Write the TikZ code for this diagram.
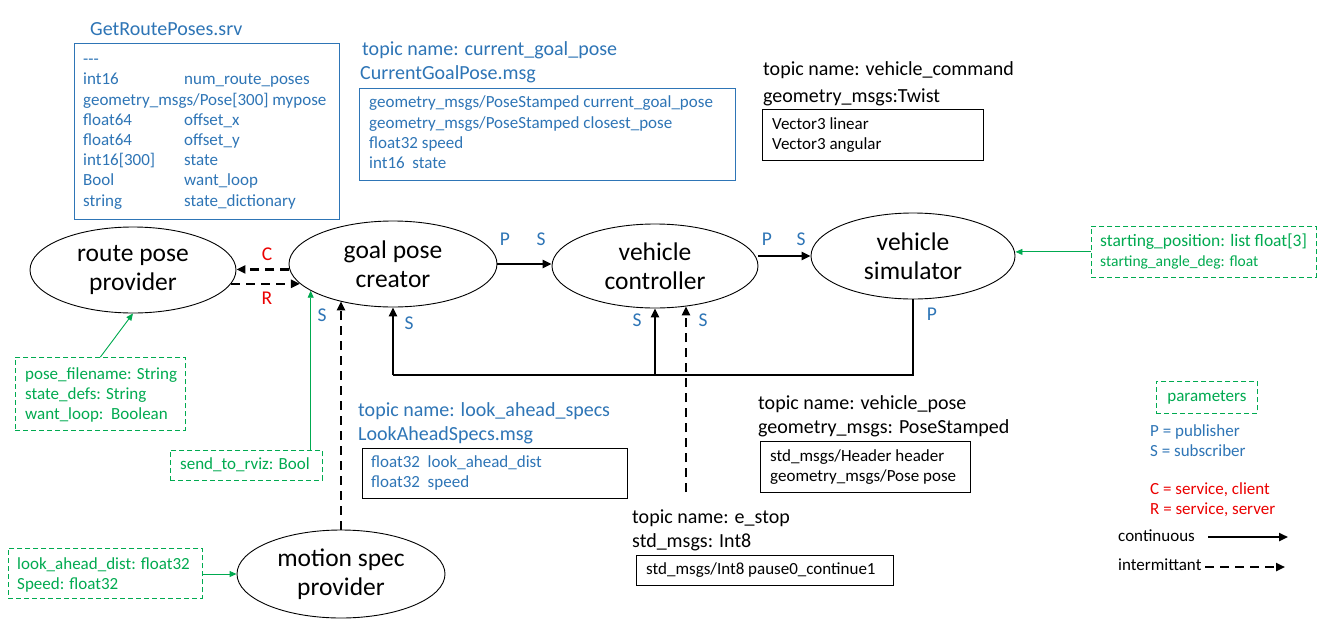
\documentclass[tikz,border=0pt]{standalone}
\usepackage{fontspec}
\setmainfont{Carlito}
\usetikzlibrary{shapes.geometric,arrows.meta,calc}
\definecolor{pblue}{RGB}{46,117,182}
\definecolor{pgreen}{RGB}{0,170,80}
\definecolor{pred}{RGB}{235,0,0}
\newcommand{\fsz}[1]{\fontsize{#1}{#1}\selectfont}
\begin{document}
\begin{tikzpicture}[x=1pt,y=-1pt,
 proc/.style={ellipse,draw,line width=0.9pt,inner sep=0pt,align=center,font=\fontsize{25.5}{29}\selectfont},
 txt/.style={anchor=west,inner sep=0pt,text height=12pt,text depth=3pt,font=\fsz{17}},
 btxt/.style={txt,text=pblue},
 gtxt/.style={txt,text=pgreen},
 ttl/.style={txt,font=\fsz{20},text height=14pt,text depth=4pt},
 bttl/.style={ttl,text=pblue},
 box/.style={draw,line width=0.8pt,anchor=north west,inner sep=0pt},
 bbox/.style={box,draw=pblue},
 gbox/.style={box,draw=pgreen,dash pattern=on 5pt off 3pt},
 conn/.style={line width=2.4pt,-{Triangle[length=9pt,width=8pt]}},
 dconn/.style={conn,dash pattern=on 9pt off 6pt},
 garrow/.style={draw=pgreen,line width=0.9pt,-{Triangle[length=7pt,width=6pt]}},
 lbl/.style={inner sep=0pt,font=\fsz{19.5}},
 blbl/.style={lbl,text=pblue},
 rlbl/.style={lbl,text=pred},
]
\useasboundingbox[fill=white] (0,0) rectangle (1324,626);

% ---------- processes ----------
\node[proc,minimum width=206pt,minimum height=86pt] (route) at (133,270) {route pose\\provider};
\node[proc,minimum width=208pt,minimum height=86pt] (goal) at (393,264) {goal pose\\creator};
\node[proc,minimum width=206pt,minimum height=84pt] (ctrl) at (655,266) {vehicle\\controller};
\node[proc,minimum width=204pt,minimum height=86pt] (sim) at (913,256) {vehicle\\simulator};
\node[proc,minimum width=208pt,minimum height=88pt] (motion) at (341,574) {motion spec\\provider};

% ---------- GetRoutePoses.srv ----------
\node[bttl] (srvT) at (90,31) {GetRoutePoses.srv};
\node[bbox,minimum width=265pt,minimum height=176pt] (srvbox) at (74,43) {};
\node[btxt] (s0) at (83,60) {-{}-{}-};
\node[btxt] (s1a) at (83,80) {int16};
\node[btxt] (s1b) at (184,80) {num\_route\_poses};
\node[btxt] (s2) at (83,101) {geometry\_msgs/Pose[300] mypose};
\node[btxt] (s3a) at (83,121) {float64};
\node[btxt] (s3b) at (184,121) {offset\_x};
\node[btxt] (s4a) at (83,141) {float64};
\node[btxt] (s4b) at (184,141) {offset\_y};
\node[btxt] (s5a) at (83,161) {int16[300]};
\node[btxt] (s5b) at (184,161) {state};
\node[btxt] (s6a) at (83,181) {Bool};
\node[btxt] (s6b) at (184,181) {want\_loop};
\node[btxt] (s7a) at (83,202) {string};
\node[btxt] (s7b) at (184,202) {state\_dictionary};

% ---------- current_goal_pose ----------
\node[bttl] (cgT1) at (362,51) {topic name: current\_goal\_pose};
\node[bttl] (cgT2) at (360,74) {CurrentGoalPose.msg};
\node[bbox,minimum width=376pt,minimum height=92pt] (cgbox) at (359,88) {};
\node[btxt] (cg1) at (369,103) {geometry\_msgs/PoseStamped current\_goal\_pose};
\node[btxt] (cg2) at (369,124) {geometry\_msgs/PoseStamped closest\_pose};
\node[btxt] (cg3) at (369,144) {float32 speed};
\node[btxt] (cg4) at (369,164) {int16\ \ state};

% ---------- vehicle_command ----------
\node[ttl] (vcT1) at (763,70) {topic name: vehicle\_command};
\node[ttl] (vcT2) at (763,97) {geometry\_msgs:Twist};
\node[box,minimum width=221pt,minimum height=51pt] (vcbox) at (762,109) {};
\node[txt] (vc1) at (772,125) {Vector3 linear};
\node[txt] (vc2) at (772,145) {Vector3 angular};

% ---------- parameters ----------
\node[gbox,minimum width=225pt,minimum height=51pt] (startbox) at (1091,226) {};
\node[gtxt,font=\fsz{17.5}] (st1) at (1100,242) {starting\_position: list float[3]};
\node[gtxt,font=\fsz{15.5}] (st2) at (1100,262) {starting\_angle\_deg: float};

\node[gbox,minimum width=170pt,minimum height=73pt] (posebox) at (15,357) {};
\node[gtxt] (pb1) at (25,375) {pose\_filename: String};
\node[gtxt] (pb2) at (25,395) {state\_defs: String};
\node[gtxt] (pb3) at (25,415) {want\_loop:\ \ Boolean};

\node[gbox,minimum width=152pt,minimum height=30pt] (rvizbox) at (170,450) {};
\node[gtxt] (rv1) at (180,465) {send\_to\_rviz: Bool};

\node[gbox,minimum width=194pt,minimum height=50pt] (labox) at (8,548) {};
\node[gtxt] (la1) at (17,565) {look\_ahead\_dist: float32};
\node[gtxt] (la2) at (17,585) {Speed: float32};

% ---------- look_ahead_specs ----------
\node[bttl] (lsT1) at (358,411) {topic name: look\_ahead\_specs};
\node[bttl] (lsT2) at (358,435) {LookAheadSpecs.msg};
\node[box,minimum width=265pt,minimum height=50pt] (lsbox) at (362,448) {};
\node[btxt] (ls1) at (371,463) {float32\ \ look\_ahead\_dist};
\node[btxt] (ls2) at (371,483) {float32\ \ speed};

% ---------- vehicle_pose ----------
\node[ttl] (vpT1) at (758,404) {topic name: vehicle\_pose};
\node[ttl] (vpT2) at (758,428) {geometry\_msgs: PoseStamped};
\node[box,minimum width=210pt,minimum height=51pt] (vpbox) at (760,441) {};
\node[txt] (vp1) at (770,457) {std\_msgs/Header header};
\node[txt] (vp2) at (770,477) {geometry\_msgs/Pose pose};

% ---------- e_stop ----------
\node[ttl] (esT1) at (632,518) {topic name: e\_stop};
\node[ttl] (esT2) at (632,542) {std\_msgs: Int8};
\node[box,minimum width=257pt,minimum height=30pt] (esbox) at (636,555) {};
\node[txt] (es1) at (646,570) {std\_msgs/Int8 pause0\_continue1};

% ---------- connectors ----------
\draw[conn] (goal.east) -- (goal.east -| ctrl.west);
\draw[conn] (ctrl.east |- sim.east) -- (sim.west);
\draw[dconn] (goal.183) -- (goal.183 -| route.east);
\draw[dconn] (route.-8) -- (route.-8 -| goal.192);

\coordinate (loopL) at (393,375);
\coordinate (loopC) at (655,375);
\draw[line width=2.4pt] (sim.south) |- (loopL);
\draw[conn] (loopL) -- (goal.south);
\draw[conn] (loopC) -- (ctrl.south);

\coordinate (esTop) at (686,492);
\draw[dconn] (esTop) -- (esTop |- ctrl.-52);
\draw[dconn] (motion.north) -- (motion.north |- goal.-145);

\draw[garrow] (posebox.north) -- (route.south);
\draw[garrow] (goal.-162 |- rvizbox.north) -- (goal.-162);
\draw[garrow] (startbox.west) -- (startbox.west -| sim.east);
\draw[garrow] (labox.east |- motion.west) -- (motion.west);

% ---------- P/S/C/R labels ----------
\node[blbl] (p1) at (505,239) {P};
\node[blbl] (s1) at (541,239) {S};
\node[blbl] (p2) at (767,239) {P};
\node[blbl] (s2) at (801,239) {S};
\node[rlbl] (c1) at (267,254) {C};
\node[rlbl] (r1) at (267,298) {R};
\node[blbl] (s3) at (322,315) {S};
\node[blbl] (s4) at (409,323) {S};
\node[blbl] (s5) at (637,320) {S};
\node[blbl] (s6) at (703,320) {S};
\node[blbl] (p3) at (932,314) {P};

% ---------- legend ----------
\node[gbox,minimum width=101pt,minimum height=32pt] (parbox) at (1156,381) {};
\node[inner sep=0pt,text=pgreen,font=\fsz{17}] (parT) at (parbox.center) {parameters};
\node[btxt] (lg1) at (1150,432) {P = publisher};
\node[btxt] (lg2) at (1150,452) {S = subscriber};
\node[txt,text=pred] (lg3) at (1150,490) {C = service, client};
\node[txt,text=pred] (lg4) at (1150,510) {R = service, server};
\node[txt] (lg5) at (1118,537) {continuous};
\node[txt] (lg6) at (1118,566) {intermittant};
\coordinate (lcA) at (1208,537);
\coordinate (lcB) at (1288,537);
\coordinate (ldA) at (1205,567);
\coordinate (ldB) at (1285,567);
\draw[conn] (lcA) -- (lcB);
\draw[dconn] (ldA) -- (ldB);
\end{tikzpicture}
\end{document}
